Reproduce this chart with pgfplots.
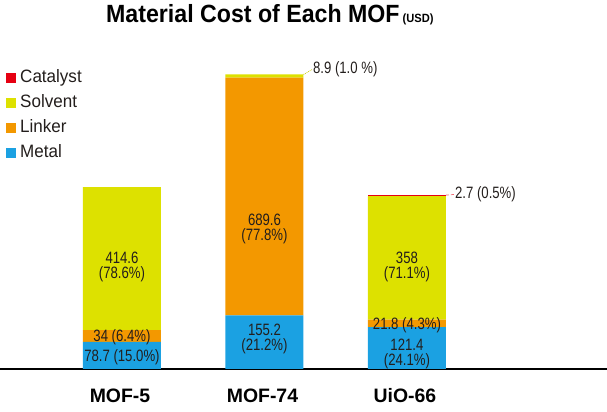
\documentclass[border=0pt]{standalone}
\usepackage{fontspec}
\setmainfont{Liberation Sans}
\newfontfamily\narrowfont[FakeStretch=0.8]{Liberation Sans}
\newfontfamily\legfont[FakeStretch=0.95]{Liberation Sans}
\newfontfamily\titlefont[FakeStretch=0.93]{Liberation Sans}
\usepackage{pgfplots}
\pgfplotsset{compat=1.18}
\definecolor{catalyst}{RGB}{230,0,18}
\definecolor{solvent}{RGB}{221,225,0}
\definecolor{linker}{RGB}{243,152,0}
\definecolor{metal}{RGB}{27,161,226}
\definecolor{textc}{RGB}{35,30,28}
\tikzset{lbl/.style={font=\narrowfont\fontsize{16.5}{15}\selectfont, text=textc, align=center, inner sep=0pt}}
\begin{document}
\begin{tikzpicture}
\path[use as bounding box] (0,0) rectangle (607bp,412bp);
\node[anchor=base west, inner sep=0pt, text=black] at (106bp,389bp)
  {{\titlefont\bfseries\fontsize{25}{27}\selectfont Material Cost of Each MOF}\hspace{3bp}{\titlefont\bfseries\fontsize{12}{14}\selectfont (USD)}};
\begin{axis}[
  at={(0,43bp)}, anchor=south west, scale only axis,
  width=607bp, height=345bp,
  xmin=-0.856, xmax=3.404, ymin=0, ymax=1000,
  ybar stacked, bar width=78bp,
  axis x line=bottom, axis y line=none,
  x axis line style={-, line width=1.2bp, black},
  xtick={0,1,2}, xticklabels={MOF-5,MOF-74,UiO-66},
  major tick length=0pt,
  xticklabel style={font=\bfseries\fontsize{19.5}{21}\selectfont, anchor=base, yshift=-34bp, xshift=-2bp, text=black},
  clip=false,
  reverse legend,
  legend cell align=left,
  legend style={at={(0.0099,0.868)}, anchor=north west, draw=none, fill=none, inner sep=0pt,
    font=\legfont\fontsize{18}{20}\selectfont, text=textc,
    nodes={inner sep=0pt, text height=13bp, text depth=4bp},
    row sep=8bp,
    /tikz/every odd column/.append style={column sep=4bp}},
  every axis plot post/.append style={legend image code/.code={\fill[##1] (0bp,-5bp) rectangle (10bp,5bp);}},
]
\addplot[fill=metal, draw=none] coordinates {(0,78.7) (1,155.2) (2,121.4)};
\addplot[fill=linker, draw=none] coordinates {(0,34) (1,689.6) (2,21.8)};
\addplot[fill=solvent, draw=none] coordinates {(0,414.6) (1,8.9) (2,358)};
\addplot[fill=catalyst, draw=none] coordinates {(0,0) (1,0) (2,2.7)};
\legend{Metal,Linker,Solvent,Catalyst}
\coordinate (a1) at (axis cs:0,34);
\coordinate (a2) at (axis cs:0,92);
\coordinate (a3) at (axis cs:0,297);
\coordinate (b1) at (axis cs:1,88);
\coordinate (b2) at (axis cs:1,406);
\coordinate (c1) at (axis cs:2,43);
\coordinate (c2) at (axis cs:2,126);
\coordinate (c3) at (axis cs:2,296);
\coordinate (s0) at (axis cs:1.274,853.7);
\coordinate (s1) at (axis cs:1.335,868);
\coordinate (s2) at (axis cs:1.34,868);
\coordinate (k0) at (axis cs:2.274,504);
\coordinate (k1) at (axis cs:2.333,506);
\coordinate (k2) at (axis cs:2.337,506);
\end{axis}
\node[lbl] at (a1) {78.7 (15.0\%)};
\node[lbl] at (a2) {34 (6.4\%)};
\node[lbl] at (a3) {414.6\\(78.6\%)};
\node[lbl] at (b1) {155.2\\(21.2\%)};
\node[lbl] at (b2) {689.6\\(77.8\%)};
\node[lbl] at (c1) {121.4\\(24.1\%)};
\node[lbl] at (c2) {21.8 (4.3\%)};
\node[lbl] at (c3) {358\\(71.1\%)};
\draw[solvent!80!gray, densely dotted, line width=0.8bp] (s0) -- (s1);
\node[lbl, anchor=west] at (s2) {8.9 (1.0 \%)};
\draw[catalyst!60!white, densely dashed, line width=0.7bp] (k0) -- (k1);
\node[lbl, anchor=west] at (k2) {2.7 (0.5\%)};
\end{tikzpicture}
\end{document}
